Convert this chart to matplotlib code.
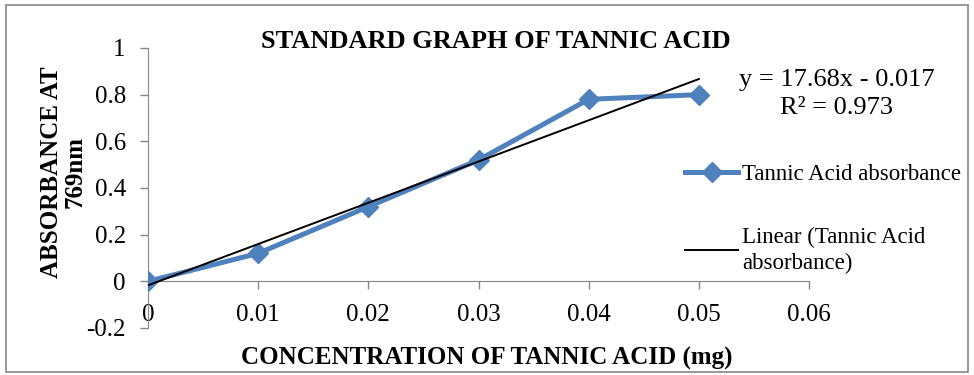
import matplotlib.pyplot as plt
from matplotlib.patches import Rectangle

# data
conc = [0, 0.01, 0.02, 0.03, 0.04, 0.05]
absorbance = [0, 0.12, 0.32, 0.52, 0.78, 0.80]
slope = 17.68
intercept = -0.017
trend_x = [0, 0.05]

x_ticks = [0, 0.01, 0.02, 0.03, 0.04, 0.05, 0.06]
x_labels = ['0', '0.01', '0.02', '0.03', '0.04', '0.05', '0.06']
y_ticks = [-0.2, 0, 0.2, 0.4, 0.6, 0.8, 1]
y_labels = ['-0.2', '0', '0.2', '0.4', '0.6', '0.8', '1']

plt.rcParams['font.family'] = ['Liberation Serif', 'DejaVu Serif']

fig = plt.figure(figsize=(9.74, 3.75), dpi=100)
ax = fig.add_axes([148 / 974, 1 - 328 / 375, (809 - 148) / 974, (328 - 48) / 375])

grey = '#868686'
blue = '#4F81BD'

ax.plot(conc, absorbance, color=blue, linewidth=3.6, marker='D', markersize=10,
        label='Tannic Acid absorbance', zorder=3)
trend_y = [slope * x + intercept for x in trend_x]
ax.plot(trend_x, trend_y, color='black', linewidth=1.4,
        label='Linear (Tannic Acid\nabsorbance)', zorder=4)

ax.set_xlim(0, 0.06)
ax.set_ylim(-0.2, 1)
ax.set_xticks(x_ticks)
ax.set_xticklabels(x_labels)
ax.set_yticks(y_ticks)
ax.set_yticklabels(y_labels)

for s in ['top', 'right']:
    ax.spines[s].set_visible(False)
ax.spines['bottom'].set_position(('data', 0))
ax.spines['bottom'].set_color(grey)
ax.spines['left'].set_color(grey)
ax.tick_params(axis='both', direction='out', length=6, color=grey,
               labelsize=18, width=1)
ax.tick_params(axis='x', pad=10)
ax.tick_params(axis='y', pad=10)
ax.patch.set_alpha(0)

fig.text(496 / 974, 1 - 42 / 375, 'STANDARD GRAPH OF TANNIC ACID',
         fontsize=19, fontweight='bold', ha='center', va='center')
fig.text(487 / 974, 1 - 358 / 375, 'CONCENTRATION OF TANNIC ACID (mg)',
         fontsize=18, fontweight='bold', ha='center', va='center')
fig.text(63 / 974, 1 - 172 / 375, 'ABSORBANCE AT\n769nm', fontsize=18,
         fontweight='bold', ha='center', va='center', rotation=90,
         multialignment='center', linespacing=1.05)

fig.text(837 / 974, 1 - 94 / 375, 'y = 17.68x - 0.017\nR² = 0.973',
         fontsize=19, ha='center', va='center', multialignment='center',
         linespacing=1.4)

fig.legend(loc='upper left', bbox_to_anchor=(676 / 974, 1 - 155 / 375),
           frameon=False, fontsize=16.5, handlelength=2.3, handletextpad=0.2,
           labelspacing=1.8, borderaxespad=0)
for t in fig.legends[0].get_texts():
    t.set_linespacing(1.35)

fig.patches.append(Rectangle((6 / 974, 3 / 375), 962 / 974, 367 / 375,
                             transform=fig.transFigure, fill=False,
                             edgecolor=grey, linewidth=1.2))

fig.savefig('out.png', dpi=100)
